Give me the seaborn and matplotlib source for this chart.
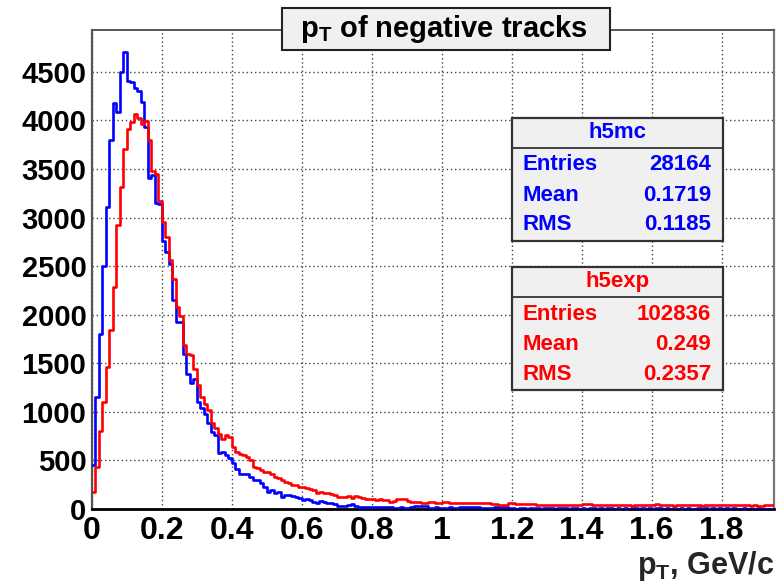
import numpy as np
import pandas as pd
import matplotlib
matplotlib.use("Agg")
import matplotlib.pyplot as plt
import seaborn as sns
from matplotlib.patches import Rectangle
from matplotlib.ticker import MultipleLocator

sns.set_style("white")
plt.rcParams["font.family"] = ["Liberation Sans", "DejaVu Sans"]
plt.rcParams["font.weight"] = "bold"
plt.rcParams["mathtext.fontset"] = "custom"
plt.rcParams["mathtext.rm"] = "Liberation Sans:bold"
plt.rcParams["mathtext.bf"] = "Liberation Sans:bold"
plt.rcParams["mathtext.it"] = "Liberation Sans:bold"
plt.rcParams["mathtext.sf"] = "Liberation Sans:bold"

# ---- histogram contents: 195 bins of 0.01 GeV/c from 0 to 1.95 ----
bin_width = 0.01
x_max = 1.95

h5mc_counts = [
    450, 1150, 1800, 2500, 3110, 3800, 4180, 4090, 4500, 4700,
    4400, 4390, 4330, 4300, 4190, 3930, 3410, 3440, 3150, 3140,
    2760, 2650, 2520, 2150, 1920, 1920, 1600, 1390, 1300, 1340,
    1100, 1040, 980, 880, 795, 760, 575, 590, 555, 520,
    470, 410, 365, 360, 365, 330, 300, 300, 265, 230,
    180, 195, 160, 178, 127, 144, 144, 134, 127, 110,
    93, 100, 93, 75, 58, 86, 75, 58, 65, 51,
    34, 34, 34, 41, 51, 31, 24, 22, 24, 20,
    22, 24, 20, 22, 24, 20, 15, 14, 16, 15,
    14, 16, 28, 27, 29, 26, 15, 14, 16, 15,
    14, 15, 16, 14, 15, 22, 23, 21, 22, 24,
    22, 12, 11, 13, 12, 18, 17, 19, 18, 6,
    6, 5, 7, 6, 5, 6, 8, 6, 5, 6,
    7, 6, 5, 6, 6, 8, 5, 6, 7, 5,
    6, 5, 6, 7, 5, 6, 5, 8, 6, 5,
    6, 5, 6, 5, 7, 6, 5, 6, 5, 6,
    5, 7, 6, 5, 6, 5, 6, 5, 6, 5,
    6, 5, 5, 6, 5, 7, 5, 6, 5, 6,
    5, 6, 5, 6, 5, 5, 6, 5, 4, 5,
    6, 5, 4, 5, 5,
]

h5exp_counts = [
    175, 430, 800, 1100, 1460, 1840, 2280, 2920, 3310, 3710,
    3910, 3980, 4070, 4020, 3960, 3990, 3800, 3480, 3450, 3170,
    2950, 2800, 2560, 2370, 2080, 1990, 1690, 1600, 1580, 1440,
    1275, 1155, 1085, 1015, 880, 830, 775, 725, 760, 745,
    640, 590, 570, 555, 540, 505, 435, 420, 400, 385,
    385, 365, 330, 315, 300, 280, 265, 250, 245, 230,
    230, 212, 202, 195, 168, 178, 168, 160, 154, 144,
    127, 127, 120, 134, 110, 130, 127, 110, 100, 105,
    100, 93, 100, 93, 93, 75, 82, 99, 98, 99,
    85, 68, 75, 75, 65, 65, 75, 75, 65, 65,
    75, 75, 65, 65, 65, 65, 66, 64, 58, 58,
    58, 58, 65, 65, 51, 51, 41, 41, 41, 58,
    58, 51, 51, 51, 48, 48, 48, 41, 41, 43,
    40, 41, 39, 42, 41, 40, 41, 42, 40, 41,
    51, 48, 48, 41, 40, 42, 41, 39, 41, 44,
    38, 37, 39, 38, 36, 38, 39, 38, 37, 38,
    38, 51, 38, 37, 39, 38, 36, 38, 39, 38,
    37, 38, 39, 38, 36, 38, 38, 39, 37, 38,
    44, 44, 43, 44, 38, 37, 39, 38, 36, 38,
    31, 31, 38, 37, 38,
]

x_tick_values = [0, 0.2, 0.4, 0.6, 0.8, 1.0, 1.2, 1.4, 1.6, 1.8]
x_tick_labels = ["0", "0.2", "0.4", "0.6", "0.8", "1", "1.2", "1.4", "1.6", "1.8"]
y_tick_values = [0, 500, 1000, 1500, 2000, 2500, 3000, 3500, 4000, 4500]
y_tick_labels = ["0", "500", "1000", "1500", "2000", "2500", "3000", "3500", "4000", "4500"]

stats_h5mc = [("Entries", "28164"), ("Mean", "0.1719"), ("RMS", "0.1185")]
stats_h5exp = [("Entries", "102836"), ("Mean", "0.249"), ("RMS", "0.2357")]

BLUE = "#0000ff"
RED = "#ff0000"
BOX_FILL = "#f0f0f0"

edges = [round(i * bin_width, 4) for i in range(len(h5mc_counts) + 1)]
centers = [e + bin_width / 2 for e in edges[:-1]]
df = pd.DataFrame({
    "pt": centers + centers,
    "count": h5mc_counts + h5exp_counts,
    "sample": ["h5mc"] * len(h5mc_counts) + ["h5exp"] * len(h5exp_counts),
})

W, H = 776, 584
fig = plt.figure(figsize=(W / 100, H / 100), dpi=100)
ax = fig.add_axes([92 / W, 1 - 509 / H, (774 - 92) / W, (509 - 29.5) / H])

for name, color in (("h5mc", BLUE), ("h5exp", RED)):
    sns.histplot(data=df[df["sample"] == name], x="pt", weights="count",
                 bins=edges, element="step", fill=False, color=color,
                 linewidth=1.9, ax=ax, zorder=3)

ax.set_xlim(0, x_max)
ax.set_ylim(0, 4935)
ax.set_ylabel("")
ax.set_xlabel(r"p$_\mathrm{T}$, GeV/c", fontsize=22, fontweight="bold")
ax.xaxis.set_label_coords(1.0, -0.118)
ax.xaxis.label.set_horizontalalignment("right")
ax.xaxis.label.set_verticalalignment("center")

ax.set_xticks(x_tick_values)
ax.set_xticklabels(x_tick_labels, fontsize=23, fontweight="bold")
ax.set_yticks(y_tick_values)
ax.set_yticklabels(y_tick_labels, fontsize=21, fontweight="bold")
ax.xaxis.set_minor_locator(MultipleLocator(0.05))
ax.yaxis.set_minor_locator(MultipleLocator(100))
ax.tick_params(axis="x", which="major", direction="in", length=11, width=1.3,
               color="#333333", pad=5, labelcolor="black")
ax.tick_params(axis="x", which="minor", direction="in", length=5.5, width=1.1,
               color="#333333")
ax.tick_params(axis="y", which="major", direction="in", length=15, width=1.3,
               color="#333333", pad=4, labelcolor="black")
ax.tick_params(axis="y", which="minor", direction="in", length=8, width=1.1,
               color="#333333")
ax.tick_params(top=False, right=False, which="both")

ax.grid(True, which="major", linestyle=(0, (1, 2)), color="#444444", linewidth=1.0)
ax.set_axisbelow(True)
for side, lw, col in (("left", 1.6, "#555555"), ("bottom", 2.0, "black"),
                      ("top", 1.4, "#555555"), ("right", 1.6, "#777777")):
    ax.spines[side].set_visible(True)
    ax.spines[side].set_linewidth(lw)
    ax.spines[side].set_color(col)


def fig_box(x0, y0, x1, y1, lw=1.5, edge="#333333"):
    """Rectangle given in pixel coordinates from the top-left corner."""
    rect = Rectangle((x0 / W, 1 - y1 / H), (x1 - x0) / W, (y1 - y0) / H,
                     transform=fig.transFigure, facecolor=BOX_FILL,
                     edgecolor=edge, linewidth=lw, zorder=10)
    fig.patches.append(rect)


def fig_text(x, y, s, **kw):
    fig.text(x / W, 1 - y / H, s, fontweight="bold", zorder=11, **kw)


# title box
fig_box(282, 8, 610, 50, lw=1.5, edge="#222222")
fig_text(444, 29, r"p$_\mathrm{T}$ of negative tracks", fontsize=21,
         ha="center", va="center", color="black")


def stats_box(top, title, rows, color):
    fig_box(512, top, 723, top + 123, lw=1.6, edge="#333333")
    fig.add_artist(plt.Line2D([512 / W, 723 / W], [1 - (top + 30) / H] * 2,
                              transform=fig.transFigure, color="#333333",
                              linewidth=1.3, zorder=11))
    fig_text(617.5, top + 15, title, fontsize=16, ha="center", va="center", color=color)
    for i, (lab, val) in enumerate(rows):
        yy = top + 47 + 30 * i
        fig_text(522, yy, lab, fontsize=16, ha="left", va="center", color=color)
        fig_text(711, yy, val, fontsize=16, ha="right", va="center", color=color)


stats_box(118, "h5mc", stats_h5mc, BLUE)
stats_box(267, "h5exp", stats_h5exp, RED)

fig.savefig("out.png", dpi=100)
